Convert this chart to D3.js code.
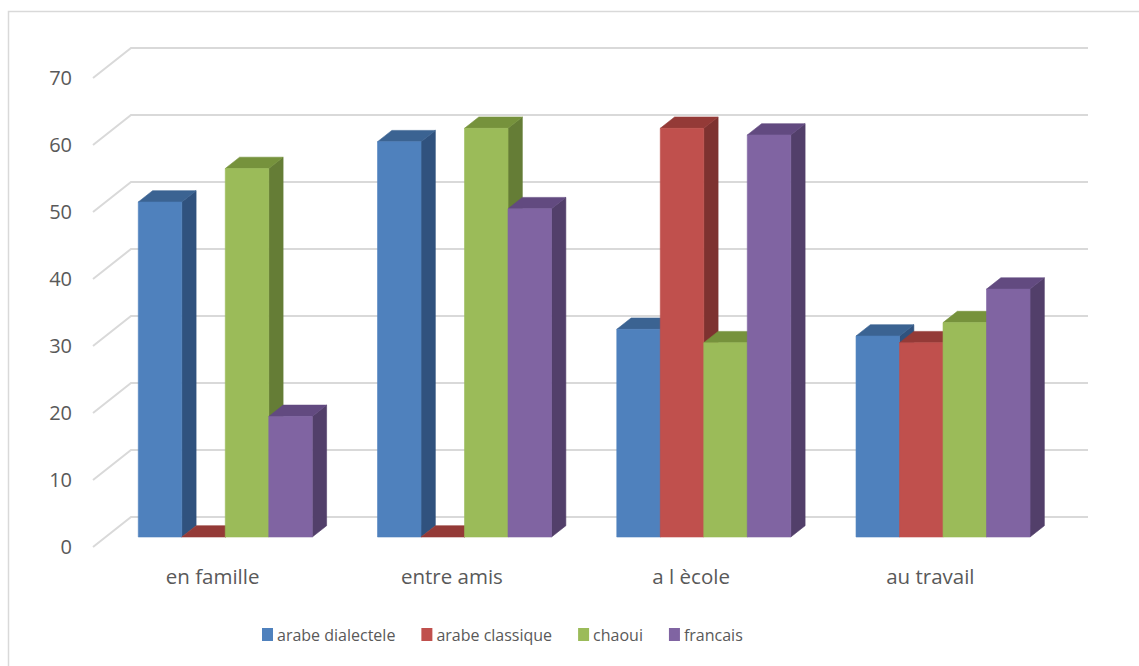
<!DOCTYPE html>
<html>
<head>
<meta charset="utf-8">
<script src="https://cdn.jsdelivr.net/npm/d3@7"></script>
<style>
  body { margin: 0; background: #fff; }
  text { font-family: "Open Sans", "Noto Sans", sans-serif; fill: #595959; }
</style>
</head>
<body>
<div id="chart"></div>
<script>
let categories = ["en famille", "entre amis", "a l \u00e8cole", "au travail"];
let seriesNames = ["arabe dialectele", "arabe classique", "chaoui", "francais"];
let values = [
  [50, 59, 31, 30],   // arabe dialectele
  [0, 0, 61, 29],     // arabe classique
  [55, 61, 29, 32],   // chaoui
  [18, 49, 60, 37]    // francais
];
let yTicks = [0, 10, 20, 30, 40, 50, 60, 70];

let frontColors = ["#4F81BD", "#C0504D", "#9BBB59", "#8064A2"];
let topColors   = ["#3B6392", "#943A37", "#76923C", "#624A80"];
let sideColors  = ["#30527E", "#7E3230", "#657D36", "#523F6A"];

let width = 1139, height = 666;

let svg = d3.select("#chart").append("svg")
  .attr("width", width)
  .attr("height", height);

svg.append("rect")
  .attr("x", 8.5).attr("y", 11.5)
  .attr("width", 1140).attr("height", 670)
  .attr("fill", "#fff")
  .attr("stroke", "#d9d9d9")
  .attr("stroke-width", 1.5);

// back wall scales
let x = d3.scaleBand().domain(categories).range([131, 1088]);
let y = d3.scaleLinear().domain([0, 70]).range([517, 48]);

// depth: 0 = back wall, 1 = front edge of the floor
let depthX = -38, depthY = 30;
let proj = function(px, py, d) {
  return [px + depthX * d, py + depthY * d];
};

let barW = x.bandwidth() / (seriesNames.length + 1.5);
let xs = d3.scaleBand().domain(d3.range(seriesNames.length))
  .range([0.75 * barW, (seriesNames.length + 0.75) * barW]);

let dFront = 0.667, dBack = 0.29;

// gridlines
let grid = svg.append("g");
yTicks.forEach(function(t) {
  let p0 = proj(131, y(t), 1);
  grid.append("polyline")
    .attr("points", [p0, [131, y(t)], [1088, y(t)]].map(p => p.join(",")).join(" "))
    .attr("fill", "none")
    .attr("stroke", "#d9d9d9")
    .attr("stroke-width", 2);
  svg.append("text")
    .attr("x", 72)
    .attr("y", p0[1])
    .attr("dy", "0.36em")
    .attr("text-anchor", "end")
    .attr("font-size", 20)
    .text(t);
});

function poly(pts, fill) {
  svg.append("polygon")
    .attr("points", pts.map(p => p.join(",")).join(" "))
    .attr("fill", fill)
    .attr("stroke", fill)
    .attr("stroke-width", 0.6)
    .attr("stroke-linejoin", "round");
}

categories.forEach(function(cat, ci) {
  seriesNames.forEach(function(s, si) {
    let v = values[si][ci];
    let x0 = x(cat) + xs(si), x1 = x0 + xs.bandwidth();
    let yt = y(v), yb = y(0);
    let fl = proj(x0, yt, dFront), fr = proj(x1, yt, dFront);
    let frb = proj(x1, yb, dFront), flb = proj(x0, yb, dFront);
    let bl = proj(x0, yt, dBack), br = proj(x1, yt, dBack);
    let brb = proj(x1, yb, dBack);
    // side face
    poly([fr, br, brb, frb], sideColors[si]);
    // top face
    poly([fl, bl, br, fr], topColors[si]);
    // front face
    if (v > 0) poly([fl, fr, frb, flb], frontColors[si]);
  });

  let lp = proj(x(cat) + x.bandwidth() / 2, y(0), 1);
  svg.append("text")
    .attr("x", lp[0])
    .attr("y", 584)
    .attr("text-anchor", "middle")
    .attr("font-size", 20.5)
    .text(cat);
});

// legend
let legend = svg.append("g");
let lx = 262;
seriesNames.forEach(function(s, si) {
  legend.append("rect")
    .attr("x", lx).attr("y", 628)
    .attr("width", 11).attr("height", 13)
    .attr("fill", frontColors[si]);
  let t = legend.append("text")
    .attr("x", lx + 15)
    .attr("y", 640.5)
    .attr("font-size", 16)
    .text(s);
  lx += 15 + t.node().getComputedTextLength() + 26;
});
</script>
</body>
</html>
